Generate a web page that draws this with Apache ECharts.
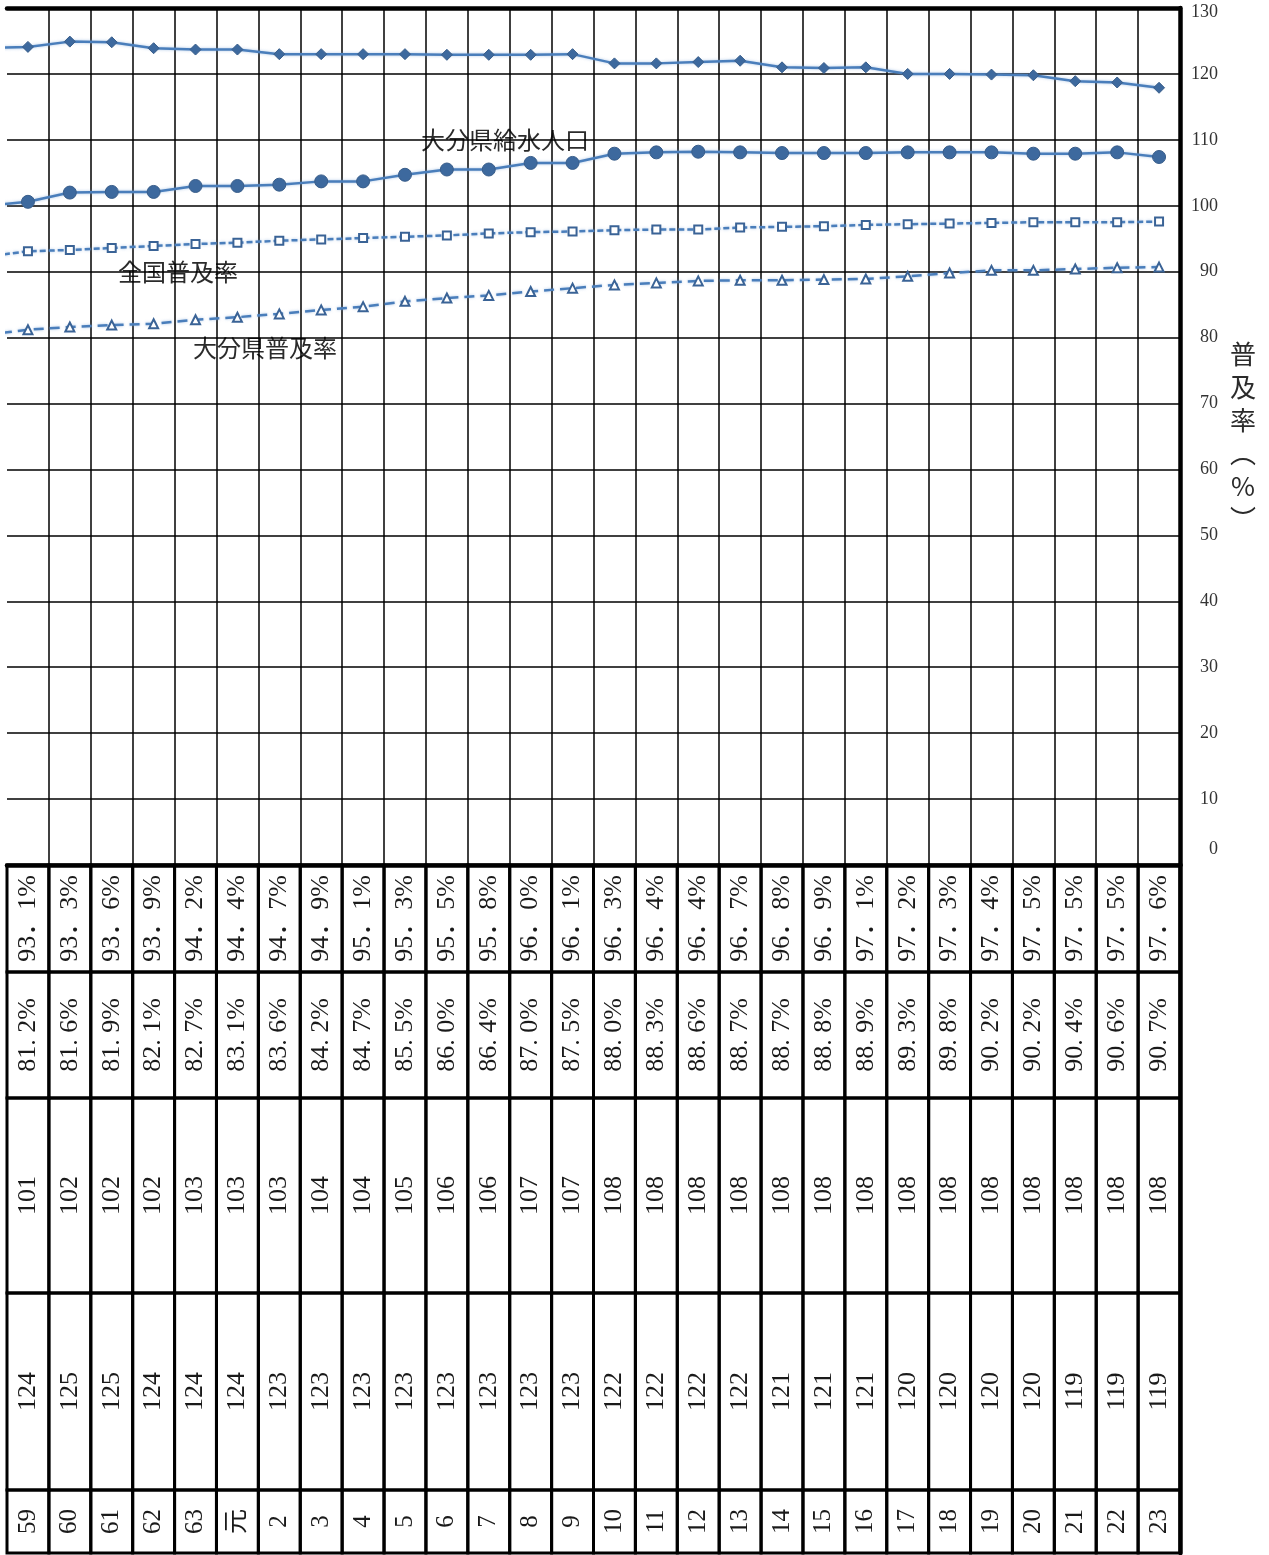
<!DOCTYPE html>
<html><head><meta charset="utf-8">
<script src="https://cdn.jsdelivr.net/npm/echarts@6/dist/echarts.min.js"></script>
<style>html,body{margin:0;padding:0;background:#fff}#c{width:1269px;height:1555px}</style>
</head><body><div id="c"></div>
<script>
// ---- data ----
const years = ['59','60','61','62','63','元','2','3','4','5','6','7','8','9','10','11','12','13','14','15','16','17','18','19','20','21','22','23'];
const nationalRate = [93.1,93.3,93.6,93.9,94.2,94.4,94.7,94.9,95.1,95.3,95.5,95.8,96.0,96.1,96.3,96.4,96.4,96.7,96.8,96.9,97.1,97.2,97.3,97.4,97.5,97.5,97.5,97.6];
const oitaRate = [81.2,81.6,81.9,82.1,82.7,83.1,83.6,84.2,84.7,85.5,86.0,86.4,87.0,87.5,88.0,88.3,88.6,88.7,88.7,88.8,88.9,89.3,89.8,90.2,90.2,90.4,90.6,90.7];
const supplyPopTable = [101,102,102,102,103,103,103,104,104,105,106,106,107,107,108,108,108,108,108,108,108,108,108,108,108,108,108,108];
const populationTable = [124,125,125,124,124,124,123,123,123,123,123,123,123,123,122,122,122,122,121,121,121,120,120,120,120,119,119,119];
// plotted line values (万人)
const populationLine = [124.1,124.9,124.8,123.9,123.7,123.7,123.0,123.0,123.0,123.0,122.9,122.9,122.9,123.0,121.6,121.6,121.8,122.0,121.0,120.9,121.0,120.0,120.0,119.9,119.8,118.9,118.7,117.9];
const supplyLine = [100.6,102.0,102.1,102.1,103.0,103.0,103.2,103.7,103.7,104.7,105.5,105.5,106.5,106.5,107.9,108.1,108.2,108.1,108.0,108.0,108.0,108.1,108.1,108.1,107.9,107.9,108.1,107.4];
// estimated values of the year before 59 (only the segment entering from the left edge is visible)
const prevPopulation = 123.9, prevSupply = 100.0, prevNational = 92.3, prevOita = 80.4;
const yTicks = {min:0, max:130, step:10};

// ---- layout ----
const rowEdges = [0,107,233,428,625,688];
const serif = "'Liberation Serif','Noto Sans CJK JP',serif";
const jp = "'Noto Sans CJK JP',sans-serif";

const fmtFull = v => { const s = v.toFixed(1).split('.'); return s[0] + '．' + s[1] + '%'; };
const fmtHalf = v => { const s = v.toFixed(1).split('.'); return s[0] + '. ' + s[1] + '%'; };
const tableRows = [
  nationalRate.map(fmtFull),
  oitaRate.map(fmtHalf),
  supplyPopTable.map(String),
  populationTable.map(String),
  years
];
const cells = [];
for (let r = 0; r < tableRows.length; r++) for (let c = 0; c < years.length; c++) cells.push([c, r]);

function withPrev(prev, arr) {
  return [{value:[-1, prev], symbol:'none'}].concat(arr.map((v, i) => [i, v]));
}
const glow = {shadowColor:'rgba(110,155,210,0.55)', shadowBlur:3};
const solidMarker = {color:'#3D699E', borderColor:'#385D8A', borderWidth:1};
const hollowMarker = {color:'#fff', borderColor:'#3A6396', borderWidth:2};
const thickLine = {show:true, onZero:false, lineStyle:{color:'#000', width:4.5}};

const chart = echarts.init(document.getElementById('c'), null, {renderer:'canvas'});
chart.setOption({
  animation: false,
  backgroundColor: '#fff',
  grid: [
    {left:7, right:89, top:8, bottom:690, containLabel:false, outerBoundsMode:'none'},
    {left:7, right:89, top:865, bottom:2, containLabel:false, outerBoundsMode:'none'}
  ],
  xAxis: [
    {gridIndex:0, type:'value', min:-0.5, max:years.length - 0.5, interval:1, position:'top',
     axisLine:thickLine, axisTick:{show:false}, axisLabel:{show:false},
     splitLine:{show:true, showMinLine:false, showMaxLine:false, lineStyle:{color:'#000', width:1.5}}},
    {gridIndex:1, type:'value', min:-0.5, max:years.length - 0.5, interval:1, position:'top',
     axisLine:thickLine, axisTick:{show:false}, axisLabel:{show:false},
     splitLine:{show:false}}
  ],
  yAxis: [
    {gridIndex:0, type:'value', min:yTicks.min, max:yTicks.max, interval:yTicks.step, position:'right',
     axisLine:thickLine, axisTick:{show:false},
     splitLine:{show:true, showMinLine:false, showMaxLine:false, lineStyle:{color:'#000', width:1.5}},
     axisLabel:{show:true, align:'right', margin:38, fontSize:18, fontFamily:serif, color:'#333',
       formatter: v => v === yTicks.min ? '{b|' + v + '}' : (v === yTicks.max ? '{t|' + v + '}' : String(v)),
       rich:{b:{padding:[0,0,32,0], fontSize:18, fontFamily:serif, color:'#333'},
             t:{padding:[9,0,0,0], fontSize:18, fontFamily:serif, color:'#333'}}}},
    {gridIndex:1, type:'value', min:0, max:rowEdges[rowEdges.length - 1], inverse:true, position:'right',
     axisLine:thickLine, axisTick:{show:false}, axisLabel:{show:false},
     splitLine:{show:false}}
  ],
  series: [
    {name:'大分県人口', type:'line', xAxisIndex:0, yAxisIndex:0, data:withPrev(prevPopulation, populationLine),
     symbol:'diamond', symbolSize:11, itemStyle:solidMarker,
     lineStyle:Object.assign({color:'#4A7EBB', width:2.5}, glow)},
    {name:'大分県給水人口', type:'line', xAxisIndex:0, yAxisIndex:0, data:withPrev(prevSupply, supplyLine),
     symbol:'circle', symbolSize:13, itemStyle:solidMarker,
     lineStyle:Object.assign({color:'#4A7EBB', width:2.5}, glow)},
    {name:'全国普及率', type:'line', xAxisIndex:0, yAxisIndex:0, data:withPrev(prevNational, nationalRate),
     symbol:'rect', symbolSize:8, itemStyle:hollowMarker,
     lineStyle:Object.assign({color:'#4A7EBB', width:2.5, type:[6,3]}, glow)},
    {name:'大分県普及率', type:'line', xAxisIndex:0, yAxisIndex:0, data:withPrev(prevOita, oitaRate),
     symbol:'triangle', symbolSize:9, itemStyle:hollowMarker,
     lineStyle:Object.assign({color:'#4A7EBB', width:2.5, type:[10,6]}, glow)},
    {name:'table', type:'custom', xAxisIndex:1, yAxisIndex:1, data:cells, silent:true,
     renderItem: function (params, api) {
       const c = api.value(0), r = api.value(1);
       const p0 = api.coord([c - 0.5, rowEdges[r]]);
       const p1 = api.coord([c + 0.5, rowEdges[r + 1]]);
       return {type:'group', children:[
         {type:'rect', shape:{x:p0[0], y:p0[1], width:p1[0] - p0[0], height:p1[1] - p0[1]},
          style:{fill:null, stroke:'#000', lineWidth:3}},
         {type:'text', x:(p0[0] + p1[0]) / 2, y:(p0[1] + p1[1]) / 2, rotation:Math.PI / 2,
          style:{text:tableRows[r][c], fontSize:(r === 4 ? 25 : 26), fontFamily:serif, fill:'#1a1a1a',
                 align:'center', verticalAlign:'middle'}}
       ]};
     }}
  ],
  graphic: [
    {type:'text', x:421, y:140, style:{text:'大分県給水人口', fontSize:24, fontFamily:jp, fill:'#2b2b2b', align:'left', verticalAlign:'middle'}},
    {type:'text', x:118, y:272, style:{text:'全国普及率', fontSize:24, fontFamily:jp, fill:'#2b2b2b', align:'left', verticalAlign:'middle'}},
    {type:'text', x:193, y:348, style:{text:'大分県普及率', fontSize:24, fontFamily:jp, fill:'#2b2b2b', align:'left', verticalAlign:'middle'}},
    {type:'text', x:1243, y:338, style:{text:'普\n及\n率\n︵\n%\n︶', fontSize:26, lineHeight:33, fontFamily:jp, fill:'#2b2b2b', align:'center', verticalAlign:'top'}}
  ]
});
</script>
</body></html>
